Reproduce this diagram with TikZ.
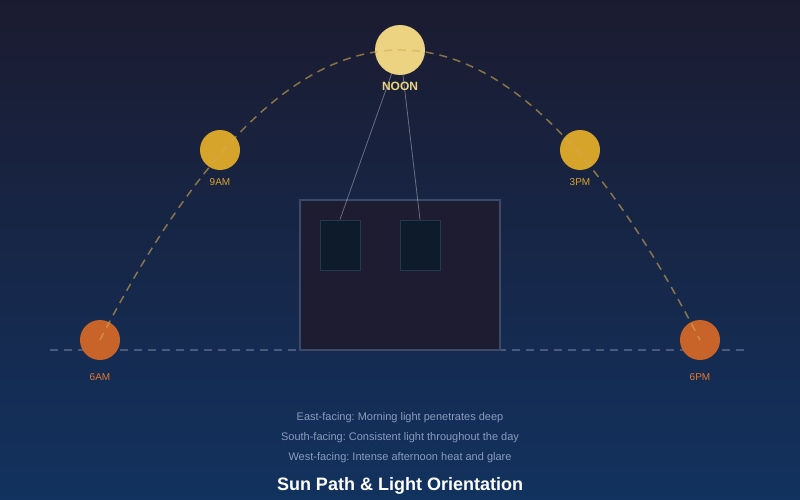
\documentclass[tikz,border=0pt]{standalone}
\usepackage{fontspec}
\setmainfont{Liberation Sans}
\usepackage{tikz}
\usetikzlibrary{positioning, calc}
\definecolor{skytop}{RGB}{27, 27, 48}
\definecolor{skybottom}{RGB}{18, 50, 95}
\definecolor{noonsun}{RGB}{236, 211, 130}
\definecolor{midsun}{RGB}{214, 164, 43}
\definecolor{lowsun}{RGB}{200, 100, 42}
\definecolor{lowlabel}{RGB}{224, 120, 47}
\definecolor{pathgold}{RGB}{212, 172, 80}
\definecolor{horizon}{RGB}{74, 90, 122}
\definecolor{wallfill}{RGB}{29, 28, 48}
\definecolor{walledge}{RGB}{60, 74, 106}
\definecolor{glass}{RGB}{13, 27, 43}
\definecolor{glassedge}{RGB}{36, 56, 78}
\definecolor{notegray}{RGB}{138, 155, 187}
\frenchspacing

\begin{document}
\begin{tikzpicture}[x=1pt, y=-1pt,
  sun/.style={circle, inner sep=0pt, minimum size=#1},
  hourlabel/.style={font=\fontsize{10}{12}\selectfont},
  note/.style={text=notegray, font=\fontsize{11}{13}\selectfont}]
  % sky
  \shade[top color=skytop, bottom color=skybottom] (0,0) rectangle (800,500);
  \useasboundingbox (0,0) rectangle (800,500);

  % horizon
  \coordinate (hzL) at (50,350);
  \coordinate (hzR) at (750,350);
  \draw[horizon, line width=1.2pt, dash pattern=on 8pt off 6pt] (hzL) -- (hzR);

  % building and windows
  \node[draw=walledge, fill=wallfill, line width=1.5pt, minimum width=200pt, minimum height=150pt, inner sep=0pt] (house) at (400,275) {};
  \node[draw=glassedge, fill=glass, line width=1pt, minimum width=40pt, minimum height=50pt, inner sep=0pt] (winL) at (340,245) {};
  \node[draw=glassedge, fill=glass, line width=1pt, minimum width=40pt, minimum height=50pt, inner sep=0pt] (winR) at (420,245) {};

  % light into the windows
  \coordinate (sunpos) at (400,50);
  \draw[white, opacity=0.35, line width=0.8pt] (sunpos) -- (winL.north);
  \draw[white, opacity=0.35, line width=0.8pt] (sunpos) -- (winR.north);

  % suns
  \node[sun=50pt, fill=noonsun] (noon) at (sunpos) {};
  \node[sun=40pt, fill=midsun] (am9) at (220,150) {};
  \node[sun=40pt, fill=midsun] (pm3) at (580,150) {};
  \node[sun=40pt, fill=lowsun] (am6) at (100,340) {};
  \node[sun=40pt, fill=lowsun] (pm6) at (700,340) {};

  % sun path
  \draw[pathgold, opacity=0.6, line width=1.5pt, dash pattern=on 8pt off 6pt]
    (am6.center) .. controls (300,-46.7) and (500,-46.7) .. (pm6.center);

  % labels
  \node[text=noonsun, font=\bfseries\fontsize{12}{14}\selectfont] (noonlbl) at (400,86) {NOON};
  \node[hourlabel, text=midsun] (am9lbl) at (220,182) {9AM};
  \node[hourlabel, text=midsun] (pm3lbl) at (580,182) {3PM};
  \node[hourlabel, text=lowlabel] (am6lbl) at (100,377) {6AM};
  \node[hourlabel, text=lowlabel] (pm6lbl) at (700,377) {6PM};

  % notes
  \node[note] (east) at (400,418) {East-facing: Morning light penetrates deep};
  \node[note] (south) at (400,438) {South-facing: Consistent light throughout the day};
  \node[note] (west) at (400,458) {West-facing: Intense afternoon heat and glare};
  \node[text=white, font=\bfseries\fontsize{18}{22}\selectfont] (title) at (400,486) {Sun Path \& Light Orientation};
\end{tikzpicture}
\end{document}
